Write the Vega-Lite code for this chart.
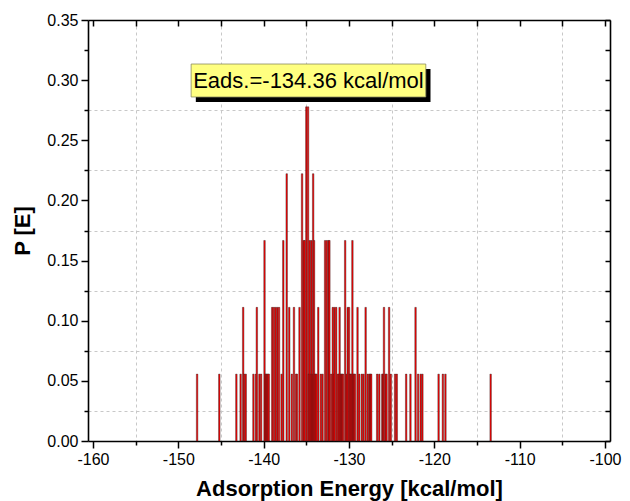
{
  "$schema": "https://vega.github.io/schema/vega-lite/v6.json",
  "width": 522,
  "height": 421,
  "autosize": "none",
  "padding": {"left": 88, "top": 20, "right": 20, "bottom": 60},
  "background": "white",
  "config": {
    "font": "Liberation Sans",
    "view": {"stroke": null},
    "axis": {
      "domainColor": "black",
      "domainWidth": 1.6,
      "tickColor": "black",
      "tickWidth": 1.5,
      "labelColor": "black",
      "labelFontSize": 16,
      "labelFont": "Liberation Sans",
      "titleFont": "Liberation Sans",
      "titleFontSize": 22,
      "titleFontWeight": "bold",
      "titleColor": "black",
      "gridColor": "#c8c8c8",
      "gridDash": [3, 3],
      "gridWidth": 1
    }
  },
  "resolve": {"axis": {"x": "independent", "y": "independent"}},
  "layer": [
    {
      "data": {
        "values": [
          {"E": -147.8, "P": 0.0556},
          {"E": -145.2, "P": 0.0556},
          {"E": -143.2, "P": 0.0556},
          {"E": -142.7, "P": 0.0556},
          {"E": -142.4, "P": 0.1111},
          {"E": -142.3, "P": 0.0556},
          {"E": -142.1, "P": 0.0556},
          {"E": -141.2, "P": 0.0556},
          {"E": -140.9, "P": 0.0556},
          {"E": -140.8, "P": 0.1111},
          {"E": -140.5, "P": 0.0556},
          {"E": -140.3, "P": 0.0556},
          {"E": -139.9, "P": 0.1667},
          {"E": -139.8, "P": 0.0556},
          {"E": -139.7, "P": 0.0556},
          {"E": -139.6, "P": 0.0556},
          {"E": -139.5, "P": 0.0556},
          {"E": -139.4, "P": 0.0556},
          {"E": -139.0, "P": 0.1111},
          {"E": -138.8, "P": 0.1111},
          {"E": -138.6, "P": 0.1111},
          {"E": -138.4, "P": 0.1111},
          {"E": -138.2, "P": 0.1111},
          {"E": -137.9, "P": 0.0556},
          {"E": -137.7, "P": 0.1667},
          {"E": -137.3, "P": 0.2222},
          {"E": -137.0, "P": 0.1111},
          {"E": -136.7, "P": 0.0556},
          {"E": -136.45, "P": 0.1111},
          {"E": -136.2, "P": 0.0556},
          {"E": -136.1, "P": 0.0556},
          {"E": -135.8, "P": 0.1111},
          {"E": -135.5, "P": 0.2222},
          {"E": -135.3, "P": 0.1667},
          {"E": -135.2, "P": 0.1667},
          {"E": -135.0, "P": 0.2778},
          {"E": -134.8, "P": 0.2778},
          {"E": -134.7, "P": 0.0556},
          {"E": -134.6, "P": 0.1667},
          {"E": -134.5, "P": 0.0556},
          {"E": -134.4, "P": 0.1667},
          {"E": -134.3, "P": 0.0556},
          {"E": -134.2, "P": 0.2222},
          {"E": -134.1, "P": 0.1667},
          {"E": -134.0, "P": 0.0556},
          {"E": -133.9, "P": 0.0556},
          {"E": -133.8, "P": 0.0556},
          {"E": -133.6, "P": 0.1111},
          {"E": -133.3, "P": 0.0556},
          {"E": -133.1, "P": 0.0556},
          {"E": -132.8, "P": 0.1667},
          {"E": -132.6, "P": 0.1667},
          {"E": -132.4, "P": 0.1667},
          {"E": -132.3, "P": 0.1667},
          {"E": -132.1, "P": 0.0556},
          {"E": -131.9, "P": 0.1111},
          {"E": -131.8, "P": 0.0556},
          {"E": -131.7, "P": 0.1111},
          {"E": -131.5, "P": 0.1111},
          {"E": -131.3, "P": 0.0556},
          {"E": -131.2, "P": 0.0556},
          {"E": -131.1, "P": 0.1111},
          {"E": -131.0, "P": 0.0556},
          {"E": -130.9, "P": 0.0556},
          {"E": -130.8, "P": 0.0556},
          {"E": -130.7, "P": 0.0556},
          {"E": -130.45, "P": 0.1667},
          {"E": -130.3, "P": 0.0556},
          {"E": -130.15, "P": 0.1111},
          {"E": -130.0, "P": 0.1111},
          {"E": -129.9, "P": 0.0556},
          {"E": -129.8, "P": 0.0556},
          {"E": -129.7, "P": 0.0556},
          {"E": -129.6, "P": 0.1667},
          {"E": -129.5, "P": 0.0556},
          {"E": -129.4, "P": 0.0556},
          {"E": -129.3, "P": 0.0556},
          {"E": -129.0, "P": 0.1111},
          {"E": -128.8, "P": 0.0556},
          {"E": -128.5, "P": 0.0556},
          {"E": -128.3, "P": 0.0556},
          {"E": -128.05, "P": 0.1111},
          {"E": -127.8, "P": 0.0556},
          {"E": -127.6, "P": 0.0556},
          {"E": -127.5, "P": 0.0556},
          {"E": -127.4, "P": 0.0556},
          {"E": -126.7, "P": 0.0556},
          {"E": -126.45, "P": 0.0556},
          {"E": -126.1, "P": 0.0556},
          {"E": -126.0, "P": 0.0556},
          {"E": -125.9, "P": 0.1111},
          {"E": -125.7, "P": 0.0556},
          {"E": -125.6, "P": 0.0556},
          {"E": -125.3, "P": 0.1111},
          {"E": -125.1, "P": 0.0556},
          {"E": -124.6, "P": 0.0556},
          {"E": -124.4, "P": 0.0556},
          {"E": -123.3, "P": 0.0556},
          {"E": -122.8, "P": 0.0556},
          {"E": -122.2, "P": 0.1111},
          {"E": -121.9, "P": 0.0556},
          {"E": -121.6, "P": 0.0556},
          {"E": -121.4, "P": 0.0556},
          {"E": -119.5, "P": 0.0556},
          {"E": -119.0, "P": 0.0556},
          {"E": -118.7, "P": 0.0556},
          {"E": -113.4, "P": 0.0556}
        ]
      },
      "mark": {"type": "bar", "size": 1.5, "fill": "#ff0000", "stroke": "#222222", "strokeWidth": 0.45, "strokeOpacity": 0.9},
      "encoding": {
        "x": {
          "field": "E", "type": "quantitative",
          "scale": {"domain": [-160, -100], "nice": false, "zero": false},
          "axis": {
            "orient": "bottom",
            "title": "Adsorption Energy [kcal/mol]",
            "titlePadding": 11,
            "values": [-160, -150, -140, -130, -120, -110, -100],
            "labelExpr": "toString(datum.value)",
            "labelPadding": 3,
            "tickSize": 7,
            "grid": false
          }
        },
        "y": {
          "field": "P", "type": "quantitative",
          "scale": {"domain": [0, 0.35], "nice": false, "zero": true},
          "axis": {
            "orient": "left",
            "title": "P [E]",
            "titlePadding": 12,
            "values": [0, 0.05, 0.1, 0.15, 0.2, 0.25, 0.3, 0.35],
            "format": ".2f",
            "labelPadding": 3,
            "tickSize": 7,
            "grid": false
          }
        }
      }
    },
    {
      "data": {"values": [{"label": "Eads.=-134.36 kcal/mol"}]},
      "mark": {"type": "rect", "fill": "black"},
      "encoding": {
        "x": {
          "datum": -147.95, "type": "quantitative",
          "axis": {
            "orient": "top", "title": null, "labels": false, "grid": false,
            "values": [-160, -155, -150, -145, -140, -135, -130, -125, -120, -115, -110, -105, -100],
            "tickSize": -6
          }
        },
        "x2": {"datum": -120.45},
        "y": {
          "datum": 0.3093, "type": "quantitative",
          "axis": {
            "orient": "right", "title": null, "labels": false, "grid": false,
            "values": [0, 0.025, 0.05, 0.075, 0.1, 0.125, 0.15, 0.175, 0.2, 0.225, 0.25, 0.275, 0.3, 0.325, 0.35],
            "tickSize": -5
          }
        },
        "y2": {"datum": 0.2818}
      }
    },
    {
      "data": {"values": [{"label": "Eads.=-134.36 kcal/mol"}]},
      "mark": {"type": "rect", "fill": "#ffff80", "stroke": "#8a8a60", "strokeWidth": 0.8},
      "encoding": {
        "x": {
          "datum": -148.5, "type": "quantitative",
          "axis": {
            "orient": "bottom", "title": null, "labels": false, "ticks": false, "domain": false,
            "grid": true,
            "values": [-155, -145, -135, -125, -115, -105]
          }
        },
        "x2": {"datum": -121.0},
        "y": {
          "datum": 0.3134, "type": "quantitative",
          "axis": {
            "orient": "left", "title": null, "labels": false, "ticks": false, "domain": false,
            "grid": true,
            "values": [0.025, 0.075, 0.125, 0.175, 0.225, 0.275]
          }
        },
        "y2": {"datum": 0.286}
      }
    },
    {
      "data": {"values": [{"label": "Eads.=-134.36 kcal/mol"}]},
      "mark": {"type": "text", "fontSize": 22, "font": "Liberation Sans", "color": "black", "align": "center", "baseline": "middle"},
      "encoding": {
        "x": {
          "datum": -134.75, "type": "quantitative",
          "axis": {
            "orient": "bottom", "title": null, "labels": false, "domain": false, "grid": false,
            "values": [-155, -145, -135, -125, -115, -105],
            "tickSize": 4
          }
        },
        "y": {
          "datum": 0.2997, "type": "quantitative",
          "axis": {
            "orient": "left", "title": null, "labels": false, "domain": false, "grid": false,
            "values": [0.025, 0.075, 0.125, 0.175, 0.225, 0.275, 0.325],
            "tickSize": 4
          }
        },
        "text": {"field": "label"}
      }
    }
  ]
}
